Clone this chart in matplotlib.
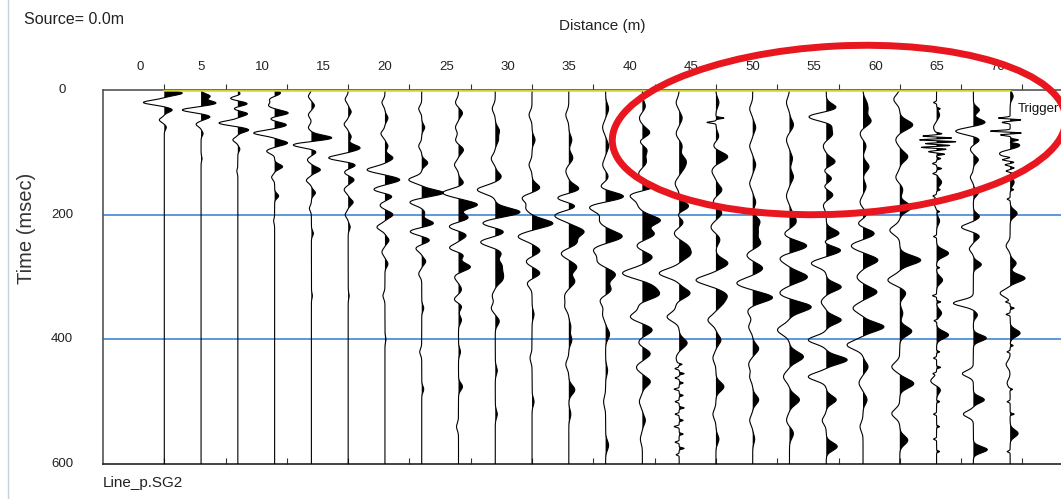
import matplotlib
matplotlib.use("Agg")
import matplotlib.pyplot as plt
import matplotlib.transforms as mtransforms
from matplotlib.patches import Ellipse
from matplotlib.lines import Line2D
import numpy as np

plt.rcParams['font.family'] = ['Liberation Sans', 'DejaVu Sans']

# geophone offsets (m) and dominant lobe half-width (ms) per trace
offsets = [2, 5, 8, 11, 14, 17, 20, 23, 26, 29, 32, 35,
           38, 41, 44, 47, 50, 53, 56, 59, 62, 65, 68, 71]
lobe_ms = [5, 5, 5, 5.5, 6, 6.5, 7, 7, 8, 9, 9, 10,
           11, 10, 10, 10, 10, 11, 9, 10, 10, 8, 7, 8]

# picked lobes per trace: (time ms, amplitude), positive = to the right
tr01 = [(5, 18), (20, -21), (32, 8), (48, -5), (60, 2)]
tr02 = [(10, 9), (21, 15), (32, -19), (43, 9), (55, -5), (70, 2), (110, 1)]
tr03 = [(8, 4), (13, -9), (22, 10), (30, -5), (38, 10), (53, -19), (64, 11),
        (80, -5), (95, 2), (130, -1)]
tr04 = [(5, 6), (15, -5), (25, -6), (37, 14), (46, -5), (56, 12), (69, -21),
        (85, 13), (98, -8), (123, 8), (140, -3), (170, 4), (210, -1)]
tr05 = [(10, -3), (25, 3), (40, -3), (60, -3), (77, 21), (88, -19), (99, 5),
        (112, -4), (128, 9), (145, -5), (165, 4), (190, -2), (230, 2), (330, 1)]
tr06 = [(15, -3), (35, 3), (55, -4), (75, 3), (93, 12), (109, -20), (120, 8),
        (132, -4), (144, 6), (160, -4), (180, 5), (200, -3), (220, 2), (330, 1)]
tr07 = [(20, -3), (45, 3), (70, -4), (90, 3), (109, 8), (128, -18), (144, 15),
        (160, -12), (170, 8), (185, -5), (200, 8), (220, -8), (241, 4),
        (260, -3), (279, 3), (330, -2), (400, 1)]
tr08 = [(30, -3), (60, 3), (90, -3), (117, 6), (144, -13), (165, 22), (180, -12),
        (197, 3), (214, 12), (227, -12), (241, 8), (254, -6), (275, 4),
        (295, -3), (350, 2), (420, -2), (480, 2)]
tr09 = [(20, -3), (37, 4), (60, -3), (80, -3), (96, 5), (120, -4), (149, 5),
        (165, -16), (184, 19), (205, 10), (219, -10), (233, 8), (254, -10),
        (264, 6), (284, 12), (300, -4), (320, 3), (337, -5), (346, 4),
        (369, 3), (420, 2), (476, 4), (540, -2)]
tr10 = [(30, -3), (65, 4), (80, 3), (110, -4), (139, 6), (160, -18), (196, 25),
        (214, -14), (227, 10), (244, -15), (262, 6), (281, 6), (294, 6),
        (305, 6), (330, -3), (350, -4), (371, 4), (450, 2), (520, 2)]
tr11 = [(40, -3), (80, 3), (120, -3), (157, 8), (173, -10), (190, -6),
        (214, 21), (235, -14), (258, 8), (275, -6), (294, 8), (310, -5),
        (360, 2), (430, -2), (500, 2)]
tr12 = [(40, -3), (80, 3), (109, 4), (130, -3), (160, 12), (173, -15),
        (186, 10), (201, -15), (227, 15), (245, 8), (262, -8), (284, 8),
        (307, 6), (330, -4), (347, -4), (380, 2), (401, 3), (440, -3),
        (481, 6), (520, 2)]
tr13 = [(30, 3), (60, -3), (90, 3), (120, -3), (140, 3), (158, -8), (171, 22),
        (187, -18), (210, -6), (235, 17), (256, -12), (275, -8), (296, 10),
        (321, 6), (337, -6), (360, -3), (392, 4), (450, 2), (500, -2),
        (570, 3)]
tr14 = [(26, 3), (45, -3), (69, 8), (82, -4), (96, 5), (115, 4), (135, -4),
        (155, 15), (168, -14), (185, -4), (209, 18), (231, 12), (250, -6),
        (268, 10), (294, -20), (316, 10), (329, 15), (345, -4), (364, -12),
        (385, 10), (405, -4), (423, 8), (445, -6), (468, 8), (500, -3),
        (530, 3), (560, -2)]
tr15 = [(20, -3), (45, 3), (70, -3), (90, 3), (113, 6), (125, 4), (150, -4),
        (187, 10), (200, -4), (211, 5), (230, -5), (251, 8), (264, 10),
        (294, -20), (326, 11), (345, -3), (364, -12), (406, 8), (430, -3)]
tr16 = [(20, 3), (75, 3), (90, -3), (107, 12), (130, -4), (160, 6),
        (180, -3), (197, 6), (220, -5), (240, 4), (278, 12), (305, -20),
        (329, 10), (342, 6), (369, -8), (401, 5), (430, -3), (476, 8),
        (520, -3), (560, 3)]
tr17 = [(30, -3), (60, 3), (90, -3), (120, 3), (150, -3), (180, 3), (211, 7),
        (228, 5), (246, 8), (265, -6), (286, 10), (310, -16), (333, 20),
        (355, -5), (380, -4), (415, 6), (440, -4), (460, -3), (497, 6),
        (530, -3), (560, 2)]
tr18 = [(20, -3), (56, 4), (80, -3), (110, 3), (139, 4), (170, -3), (200, 3),
        (213, 6), (232, -6), (250, 18), (270, -10), (300, 18), (326, -10),
        (348, 22), (385, -12), (428, 14), (460, -6), (497, 10), (530, -3),
        (551, 4)]
tr19 = [(29, 11), (43, -19), (56, 6), (71, 6), (90, -3), (115, 9), (130, -3),
        (142, 6), (155, -3), (168, 7), (185, -3), (230, 13), (245, -4),
        (257, 15), (278, -15), (316, 15), (340, -5), (369, 15), (401, -18),
        (433, 21), (460, -18), (497, 10), (530, -4), (572, 11)]
tr20 = [(20, 3), (32, 4), (50, 8), (70, -3), (90, 3), (123, 6), (155, 3),
        (180, -3), (200, 4), (215, -6), (230, 12), (250, -12), (273, 15),
        (300, -6), (324, 14), (350, -10), (380, 21), (409, -16), (444, 5),
        (470, -4), (497, 4), (540, -3)]
tr21 = [(15, -6), (56, 13), (80, -4), (107, 8), (140, -4), (160, 3),
        (188, 12), (225, -10), (273, 21), (305, -12), (326, 6), (358, 3),
        (387, 12), (444, -8), (471, 14), (519, -8), (562, 8)]
tr22 = [(40, 3), (60, -3), (148, 5), (180, -3), (210, 3), (262, 12),
        (305, 6), (358, 5), (393, 12), (467, -6), (481, 4)]
tr23 = [(32, 6), (52, 12), (66, -18), (80, 6), (95, -3), (112, 5), (140, -3),
        (165, 5), (203, 6), (220, -12), (235, 6), (255, -4), (280, 8),
        (342, -20), (361, 4), (398, 13), (455, -11), (497, 11), (520, -10),
        (577, 14)]
tr24 = [(10, 3), (90, 11), (101, -12), (148, 4), (198, 7), (250, -4),
        (278, 6), (302, 15), (326, -10), (390, 10), (440, -4), (470, -3),
        (551, 8)]

traces = [tr01, tr02, tr03, tr04, tr05, tr06, tr07, tr08, tr09, tr10, tr11,
          tr12, tr13, tr14, tr15, tr16, tr17, tr18, tr19, tr20, tr21, tr22,
          tr23, tr24]

# short high-frequency lobes on the noisy far traces: (time ms, amplitude)
hf15 = [(440, 4), (447, -4), (455, 5), (462, -4), (470, 4), (480, -5),
        (490, 4), (500, -4), (510, 5), (520, -4), (530, 4), (540, -5),
        (552, 4), (565, -4), (575, 5), (585, -3)]
hf16 = [(45, 8), (52, -9)]
hf22 = [(20, -3), (30, 3), (70, 6), (74, -14), (77, 16), (80, -18), (83, 20),
        (86, -12), (89, 14), (92, -16), (95, 10), (99, -8), (103, 8),
        (110, 4), (118, -4), (126, 5), (134, -4), (160, 3), (170, -3),
        (195, 3), (235, -3), (285, 3), (330, -4), (340, 4), (370, -3),
        (420, 3), (430, -3), (445, 4), (455, -3), (500, 3), (520, -3),
        (540, 3), (560, -3), (580, 3)]
hf24 = [(45, -12), (48, 11), (52, -8), (66, -20), (69, 12), (72, -10),
        (80, 6), (84, -6), (108, 5), (112, -6), (116, 4), (120, -5),
        (125, 4), (130, -4), (135, 5), (140, -3), (160, 3), (175, -3),
        (340, -4), (350, 4), (360, -4), (410, 3), (420, -3), (480, 3),
        (500, -3), (520, 4), (580, -3)]
hf_lobes = {14: hf15, 15: hf16, 21: hf22, 23: hf24}

gain = 1 / 12.3  # amplitude units to metres of offset
t = np.arange(0, 600.5, 0.5)


def wiggle(lobes, width):
    s = np.zeros_like(t)
    for t0, a in lobes:
        s += a * np.exp(-((t - t0) / width) ** 2)
    return s


W, H = 1061, 499
fig = plt.figure(figsize=(W / 100, H / 100), dpi=100)
ax = fig.add_axes([103 / W, 35 / H, 958 / W, 374 / H])
ax.set_xlim(-3, 75.15)
ax.set_ylim(600, 0)

for i, x0 in enumerate(offsets):
    s = wiggle(traces[i], lobe_ms[i])
    if i in hf_lobes:
        s += wiggle(hf_lobes[i], 1.6)
    x = x0 + s * gain
    ax.fill_betweenx(t, x0, x, where=s > 0, color='black', lw=0,
                     interpolate=True, zorder=3)
    ax.plot(x, t, color='black', lw=0.8, zorder=4)

# time lines
ax.plot([offsets[0], offsets[-1]], [0, 0], color='#cfd13a', lw=1.8, zorder=5)
for tl in (200, 400):
    ax.axhline(tl, color='#3f86d6', lw=1.2, zorder=2)

for side in ('left', 'top'):
    ax.spines[side].set_color('#555555')
    ax.spines[side].set_linewidth(1.2)
ax.spines['right'].set_visible(False)
ax.spines['bottom'].set_color('#222222')
ax.spines['bottom'].set_linewidth(1.2)

tick_pos = [2, 7, 12, 17, 22, 27, 32, 37, 42, 47, 52, 57, 62, 67, 72]
ax.xaxis.tick_top()
ax.set_xticks(tick_pos)
ax.set_xticklabels([])
ax.tick_params(axis='x', direction='out', length=4.5, width=0.8,
               color='#333333')
ax.set_yticks([])
bot = ax.secondary_xaxis('bottom')
bot.set_xticks(tick_pos)
bot.set_xticklabels([])
bot.tick_params(direction='in', length=4, width=0.8, color='#333333')
bot.spines['bottom'].set_visible(False)

# distance labels
dist_labels = [0, 5, 10, 15, 20, 25, 30, 35, 40, 45, 50, 55, 60, 65, 70]
top_tr = mtransforms.blended_transform_factory(ax.transData, ax.transAxes)
for d in dist_labels:
    ax.text(d, 1.062, str(d), transform=top_tr, ha='center', va='center',
            fontsize=9.5, color='#222222', clip_on=False)

time_labels = [0, 200, 400, 600]
left_tr = mtransforms.blended_transform_factory(ax.transAxes, ax.transData)
for tv in time_labels:
    ax.text(-41 / 958, tv, str(tv), transform=left_tr, ha='center',
            va='center', fontsize=9.5, color='#222222', clip_on=False)

ax.text(71.6, 30, 'Trigger', ha='left', va='center', fontsize=9.5,
        color='#111111', clip_on=False, zorder=6)

fig.text(24 / W, 1 - 20 / H, 'Source= 0.0m', ha='left', va='center',
         fontsize=11.5, color='#222222')
fig.text(602 / W, 1 - 26 / H, 'Distance (m)', ha='center', va='center',
         fontsize=11, color='#222222')
fig.text(26 / W, 1 - 228 / H, 'Time (msec)', ha='center', va='center',
         rotation=90, fontsize=14.5, color='#333333')
fig.text(103 / W, 1 - 483 / H, 'Line_p.SG2', ha='left', va='center',
         fontsize=11, color='#222222')

fig.add_artist(Line2D([8 / W, 8 / W], [0, 1], color='#c8d0dc', lw=1))

# highlighted region
fig.add_artist(Ellipse((8.39, 4.99 - 1.30), 4.54, 1.68, angle=3,
                       transform=fig.dpi_scale_trans, fill=False,
                       edgecolor='#e8161e', lw=5, zorder=10))

fig.savefig('out.png', dpi=100)
